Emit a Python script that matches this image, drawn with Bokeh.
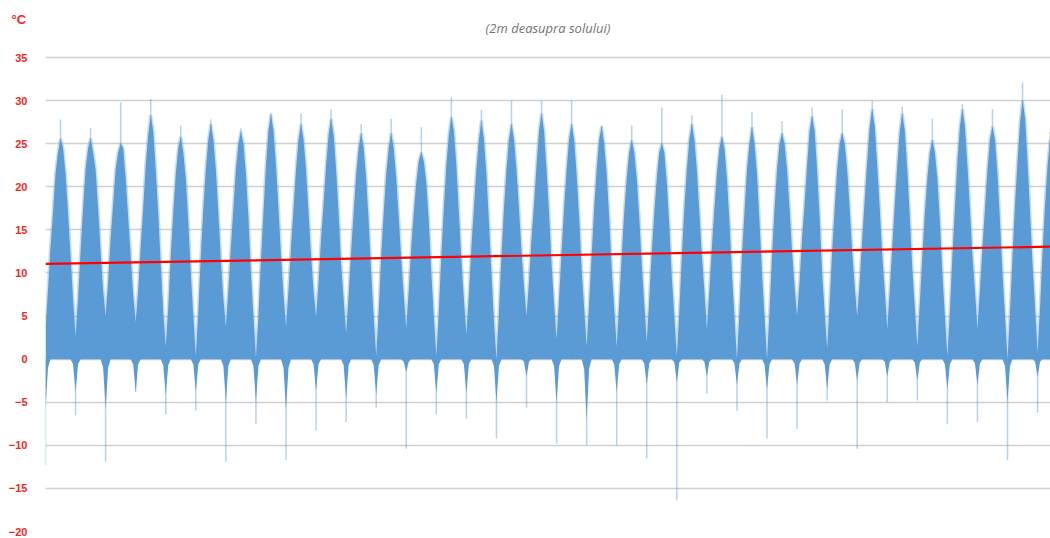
from bokeh.plotting import figure
from bokeh.embed import file_html
from bokeh.resources import INLINE
from bokeh.models import FixedTicker, Range1d, Label

# ---------------- data ----------------
# monthly upper envelope of the temperature columns, one row per year (Jan..Dec)
upper_dense = [
    [3.5, 8, 13, 17, 21.5, 24, 25.6, 24.5, 21.5, 17, 12, 7],
    [2.7, 7, 12.5, 17.5, 22, 24.5, 25.6, 24, 22, 17.5, 12.5, 8],
    [5.0, 9, 14, 18, 22, 24, 25.0, 24.5, 21, 16.5, 12, 7.5],
    [4.3, 8, 13, 17.5, 22.5, 26, 28.3, 26.5, 22, 17, 11, 5.5],
    [1.5, 6, 12, 17, 21.5, 24.5, 25.8, 24, 21, 16, 10, 5],
    [0.4, 5.5, 12, 17.5, 22, 25.5, 27.3, 25.5, 22, 17, 11.5, 7],
    [3.8, 8, 13, 17.5, 22, 25, 26.4, 25, 21.5, 16.5, 10, 5],
    [0.2, 5, 11.5, 17, 22.5, 26.5, 28.4, 26.5, 22.5, 17.5, 12, 7.5],
    [3.8, 8, 13, 17.5, 22, 25.5, 27.3, 25.5, 22, 17, 12, 8],
    [4.9, 9, 14, 18, 22.5, 26, 27.9, 26, 22, 17, 11, 7],
    [3.0, 7.5, 12.5, 17, 21.5, 24.5, 26.2, 24.5, 21, 16, 10, 5],
    [0.4, 5.5, 12, 17, 21.5, 24.5, 26.2, 24.5, 21, 16.5, 11.5, 7.5],
    [3.6, 8, 13, 17, 20.5, 23, 24.0, 23, 20.5, 16, 10, 5],
    [0.4, 5.5, 12, 17.5, 22.5, 26, 28.1, 26.5, 22.5, 17, 11.5, 7],
    [2.9, 7.5, 13, 17.5, 22, 25.5, 27.7, 25.5, 21.5, 16, 10, 4.5],
    [0.0, 5.5, 12, 17.5, 22, 25.5, 27.3, 25.5, 22, 17.5, 12.5, 8.5],
    [5.0, 9, 14, 18, 22.5, 26.5, 28.5, 26.5, 22, 17, 11, 6.5],
    [2.3, 7, 12.5, 17.5, 22, 25.5, 27.3, 25.5, 21.5, 16.5, 10.5, 6],
    [1.5, 6.5, 12, 17.5, 22, 25.5, 27.0, 25, 21.5, 16.5, 10.5, 6],
    [1.5, 6.5, 12, 17, 21, 24, 25.4, 24, 21, 16.5, 11, 6.5],
    [2.0, 7, 12.5, 17, 21, 24, 25.0, 24, 20.5, 15.5, 9.5, 5],
    [0.4, 5.5, 12, 17.5, 22, 25.5, 27.3, 25.5, 22, 17, 12, 8],
    [3.5, 8, 13, 17.5, 21.5, 24.5, 25.8, 24.5, 21, 16, 10, 5],
    [0.0, 5.5, 12, 17, 22, 25, 26.9, 25, 21.5, 16, 10, 5],
    [0.0, 5.5, 12, 17.5, 22, 25, 26.2, 25, 22, 17.5, 12.5, 8.5],
    [5.0, 9, 14, 18, 22.5, 26.5, 28.2, 26.5, 22, 16.5, 10, 5.5],
    [1.2, 6.5, 12.5, 17.5, 22, 25, 26.2, 25, 22, 17.5, 12.5, 8.5],
    [5.0, 9, 14, 18.5, 23, 27, 29.0, 27, 22.5, 17.5, 12, 8],
    [3.5, 8, 13, 18, 22.5, 26.5, 28.5, 26.5, 22, 16.5, 10.5, 6],
    [1.5, 6.5, 12, 17, 21, 24, 25.4, 24, 21, 16, 10, 5],
    [0.4, 5.5, 12, 17.5, 23, 27, 29.0, 27, 22.5, 17.5, 12, 8],
    [3.5, 8, 13, 17.5, 22, 25.5, 27.0, 25.5, 21.5, 16, 10, 5],
    [0.0, 5.5, 12, 18, 23, 27.5, 30.0, 28, 23, 17, 11, 6],
    [0.8, 6, 12.5, 18, 22.5, 25.5],
]

# winter negative part of the columns (dense part): Jan, Feb and Dec of each year
winter_low_jan = [-5.8, -3.8, -5.8, -3.8, -4.2, -3.8, -5.0, -5.0, -5.8, -3.7, -4.6, -4.2,
                  -1.5, -4.0, -4.0, -5.0, -2.0, -5.0, -7.0, -3.8, -3.0, -2.7, -2.0, -3.0,
                  -3.5, -3.0, -3.5, -2.5, -2.0, -2.5, -3.5, -3.0, -5.0, -2.0]
winter_low_feb = [-1.0, -0.6, -1.0, -0.6, -0.7, -0.6, -0.8, -0.8, -1.0, -0.6, -0.7, -0.7,
                  -0.3, -0.6, -0.6, -0.8, -0.3, -0.8, -1.1, -0.6, -0.5, -0.4, -0.3, -0.5,
                  -0.6, -0.5, -0.6, -0.4, -0.3, -0.4, -0.6, -0.5, -0.8, -0.3]
winter_low_dec = [-0.6, -1.0, -0.6, -0.7, -0.6, -0.8, -0.8, -1.0, -0.6, -0.7, -0.7, -0.3,
                  -0.6, -0.6, -0.8, -0.3, -0.8, -1.1, -0.6, -0.5, -0.4, -0.3, -0.5, -0.6,
                  -0.5, -0.6, -0.4, -0.3, -0.4, -0.6, -0.5, -0.8, -0.3, 0.0]

# extreme single values (thin lighter spikes)
annual_max = [27.8, 26.8, 29.8, 30.2, 27.1, 27.8, 26.8, 28.6, 28.5, 29.0, 27.3, 27.9,
              26.9, 30.4, 28.9, 30.0, 30.0, 30.0, 27.1, 27.1, 29.2, 28.3, 30.7, 28.7,
              27.6, 29.2, 29.0, 30.0, 29.3, 27.9, 29.6, 29.0, 32.1, 26.4]
annual_max_month = [6] * 33 + [5]
annual_min = [-12.3, -6.5, -11.9, -3.8, -6.4, -6.0, -11.9, -7.5, -11.7, -8.3, -7.3, -5.6,
              -10.4, -6.4, -6.9, -9.2, -5.6, -9.8, -10.0, -10.0, -11.5, -16.4, -4.0, -6.0,
              -9.2, -8.1, -4.8, -10.4, -5.0, -4.8, -7.5, -7.3, -11.7, -6.2]
annual_min_month = [0] * 34

trend_first, trend_last = 11.05, 13.05
years_shown = 33.43
y_ticks = [-20, -15, -10, -5, 0, 5, 10, 15, 20, 25, 30, 35]
subtitle = "(2m deasupra solului)"
unit_label = "°C"

# ---------------- build series ----------------
xs, ups, lows = [], [], []
for k, row in enumerate(upper_dense):
    for m, v in enumerate(row):
        xs.append(k + m / 12)
        ups.append(v)
        if m == 0:
            lows.append(winter_low_jan[k])
        elif m == 1:
            lows.append(winter_low_feb[k])
        elif m == 11:
            lows.append(winter_low_dec[k])
        else:
            lows.append(0.0)

max_x = [k + annual_max_month[k] / 12 for k in range(len(annual_max))]
min_x = [k + annual_min_month[k] / 12 for k in range(len(annual_min))]

BLUE = "#5B9BD5"
RED = "#ff1f1f"

# frame reaches a little above 35 so the subtitle can sit inside it
p = figure(width=1050, height=538, x_range=Range1d(0, years_shown), y_range=Range1d(-20, 39.53),
           output_backend="svg", toolbar_location=None, x_axis_location=None,
           min_border_left=45, min_border_right=0, min_border_top=18, min_border_bottom=7,
           outline_line_color=None, title=unit_label)

p.title.align = "left"
p.title.offset = -34
p.title.standoff = -16
p.title.text_font = "Liberation Sans"
p.title.text_font_style = "bold"
p.title.text_font_size = "13px"
p.title.text_color = RED

p.xgrid.visible = False
p.ygrid.ticker = FixedTicker(ticks=y_ticks)
p.ygrid.grid_line_color = "#d0d0d0"
p.ygrid.grid_line_width = 1.6

ax = p.yaxis[0]
ax.ticker = FixedTicker(ticks=y_ticks)
ax.axis_line_color = None
ax.major_tick_line_color = None
ax.minor_tick_line_color = None
ax.major_label_text_color = RED
ax.major_label_text_font = "Liberation Sans"
ax.major_label_text_font_style = "bold"
ax.major_label_text_font_size = "11px"
ax.major_label_standoff = 12

p.varea(x=xs, y1=lows, y2=ups, fill_color=BLUE)
p.line(xs, ups, line_color=BLUE, line_alpha=0.35, line_width=3)
p.segment(x0=max_x, y0=[0] * len(max_x), x1=max_x, y1=annual_max,
          line_color=BLUE, line_alpha=0.45, line_width=1.5)
p.segment(x0=min_x, y0=[0] * len(min_x), x1=min_x, y1=annual_min,
          line_color=BLUE, line_alpha=0.45, line_width=1.5)

p.line([0, years_shown], [trend_first, trend_last], line_color="#ff0000", line_width=2.2)

p.add_layout(Label(x=years_shown / 2, y=38.48, text=subtitle, text_align="center",
                   text_baseline="middle", text_font="Open Sans", text_font_style="italic",
                   text_font_size="13px", text_color="#737373"))

open("out.html", "w").write(file_html(p, INLINE))
